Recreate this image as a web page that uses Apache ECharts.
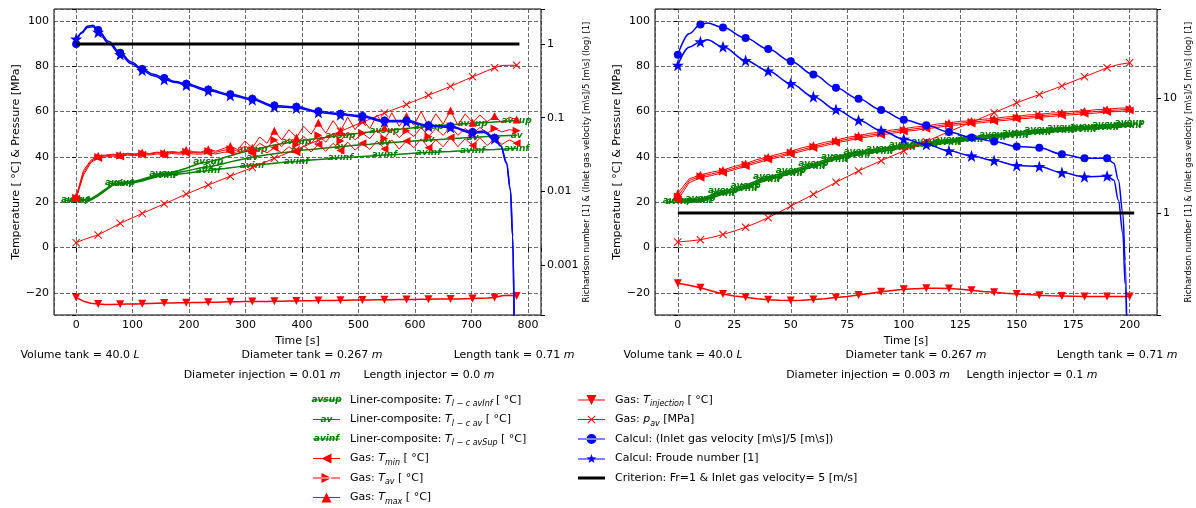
<!DOCTYPE html>
<html>
<head>
<meta charset="utf-8">
<script src="https://cdn.jsdelivr.net/npm/echarts@6/dist/echarts.min.js"></script>
<style>
  html, body { margin: 0; padding: 0; background: #fff; }
  #chart { width: 1196px; height: 508px; }
</style>
</head>
<body>
<div id="chart"></div>
<script>
// ---------- left run : injector 0.01 m ----------
const tLeft = [0,13,26,39,52,65,78,91,104,117,130,143,156,169,182,195,208,221,234,247,260,273,286,299,312,325,338,351,364,377,390,403,416,429,442,455,468,481,494,507,520,533,546,559,572,585,598,611,624,637,650,663,676,689,702,715,728,741,754,767,780];
const tMaxLeft = [22.5,34,38.5,40.5,40.8,41.2,40.9,41.6,41.3,41.9,41.5,42.1,41.8,42.4,42.0,43.0,42.3,42.1,43.4,42.5,43.6,44.8,43.2,47.0,44.0,48.8,46.0,51.5,47.5,52.0,48.5,53.5,50.0,55.0,50.5,56.0,51.5,57.5,52.0,56.5,52.5,58.5,53.0,59.5,53.5,58.0,54.0,60.0,53.5,59.0,54.5,60.5,54.0,59.0,55.0,58.5,55.5,58.0,55.0,57.5,56.5];
const tAvLeft = [22,33,38,40,40.5,40.8,40.6,41.2,41.0,41.5,41.2,41.8,41.5,42.0,41.7,42.3,41.9,41.8,42.6,42.0,42.8,43.5,42.5,44.8,43.0,46.0,44.0,47.5,44.5,48.0,45.5,49.0,46.0,49.5,46.5,50.5,47.0,51.0,47.5,50.5,48.0,52.0,48.0,52.5,48.5,51.5,49.0,53.0,49.0,52.5,49.5,53.5,49.5,52.5,50.0,53.0,50.5,52.5,51.0,52.0,51.5];
const tMinLeft = [21.5,32,37.5,39.5,40,40.3,40.2,40.8,40.5,41,40.8,41.3,41,41.5,41.2,41.7,41.3,41.2,41.8,41.3,42,42.3,41.5,43,41.5,43.5,41.8,44,41.8,44.5,42,45,42.2,45.5,42.5,46,42.8,46.5,43,46,43.3,47,43.5,47.5,43.5,47,44,48,44,47.5,44.5,48.5,44.5,48,45,48.5,45,48,45.5,47.5,46];
const tInjLeft = [-22.0,-23.6,-24.5,-24.9,-25.1,-25.1,-25.0,-24.9,-24.8,-24.7,-24.6,-24.5,-24.4,-24.4,-24.3,-24.3,-24.2,-24.2,-24.1,-24.1,-24.0,-23.9,-23.9,-23.8,-23.8,-23.7,-23.7,-23.6,-23.6,-23.5,-23.5,-23.4,-23.4,-23.3,-23.3,-23.3,-23.2,-23.2,-23.1,-23.1,-23.1,-23.0,-23.0,-23.0,-22.9,-22.9,-22.9,-22.8,-22.8,-22.7,-22.7,-22.6,-22.6,-22.5,-22.4,-22.3,-22.2,-22.0,-21.2,-21.0,-21.3];
const pAvLeft = [2.2,3.5,4.6,5.6,7.3,9.0,10.7,12.2,13.6,15.1,16.5,17.9,19.3,20.7,22.2,23.6,24.9,26.3,27.6,28.9,30.2,31.5,32.8,34.0,35.3,36.7,38.0,39.4,40.7,42.0,43.3,44.6,46.0,47.3,48.6,50.0,51.3,52.6,54.0,55.3,56.6,58.0,59.3,60.6,61.8,63.1,64.5,65.8,67.2,68.5,69.8,71.1,72.5,73.9,75.3,76.6,78.0,79.3,80.3,80.4,80.4];
const linerSupLeft = [21,21,21.5,23.5,25.8,28,28.6,28.8,29.3,30.2,31.2,32.3,32.8,33.2,34,35,36.2,37.3,37.8,38.5,39.5,40.5,41.5,42.3,43,43.8,44.5,45.2,45.8,46.3,46.8,47.3,47.8,48.2,48.6,49,49.4,49.8,50.2,50.6,51,51.3,51.6,51.9,52.2,52.5,52.8,53.1,53.4,53.7,54,54.2,54.4,54.6,54.8,55,55.2,55.4,55.6,55.8,56];
const linerAvLeft = [21,21,21.3,23.2,25.5,27.8,28.4,28.6,29,29.8,30.8,31.8,32.3,32.7,33.2,33.8,34.5,35.2,35.6,36.2,37,37.8,38.5,39.2,39.8,40.4,40.9,41.4,41.8,42.2,42.6,43,43.3,43.6,43.9,44.2,44.5,44.8,45.1,45.4,45.6,45.9,46.1,46.3,46.6,46.8,47,47.2,47.4,47.6,47.8,48,48.2,48.4,48.6,48.8,49,49.1,49.3,49.4,49.5];
const linerInfLeft = [20.8,20.8,21,22.8,25.2,27.5,28.2,28.4,28.7,29.4,30.3,31.2,31.8,32.2,32.5,32.8,33.2,33.6,34,34.4,34.8,35.2,35.6,36,36.3,36.6,36.9,37.2,37.5,37.8,38,38.3,38.6,38.9,39.1,39.3,39.6,39.8,40,40.2,40.4,40.6,40.8,41,41.2,41.4,41.6,41.8,41.9,42.1,42.3,42.4,42.6,42.7,42.9,43,43.2,43.3,43.5,43.6,43.8];
const tBlueLeft = [0,10,20,30,39,58,78,98,117,137,156,176,195,234,273,312,351,390,429,468,507,546,585,624,663,702,722,741,752,762,769,773,776];
const velLeft = [1.0,1.45,1.75,1.8,1.55,1.08,0.76,0.57,0.46,0.39,0.345,0.31,0.288,0.241,0.209,0.181,0.146,0.141,0.122,0.1135,0.1055,0.0914,0.0914,0.0792,0.0764,0.0638,0.066,0.0534,0.042,0.025,0.0108,0.0025,0.0001];
const froudeLeft = [1.17,1.4,1.68,1.72,1.45,1.02,0.72,0.54,0.44,0.37,0.33,0.30,0.277,0.232,0.201,0.175,0.141,0.136,0.118,0.110,0.102,0.088,0.088,0.0765,0.074,0.062,0.063,0.052,0.041,0.024,0.0104,0.0024,0.0001];
const critTLeft = [0, 785];

// ---------- right run : injector 0.003 m ----------
const tRight = [0,5,10,15,20,25,30,35,40,45,50,55,60,65,70,75,80,85,90,95,100,105,110,115,120,125,130,135,140,145,150,155,160,165,170,175,180,185,190,195,200];
const tMaxRight = [24,30.3,32.1,33.3,34.2,35.8,37.1,38.8,40,41.4,42.5,44,45.1,46.4,47.4,48.6,49.4,50.4,50.9,51.9,52.4,53.2,53.6,54.5,55,55.7,55.9,56.6,56.9,57.6,57.9,58.5,58.7,59.3,59.5,60.1,60.2,60.8,61,61.5,61.6];
const tAvRight = [22.5,29.5,31.5,32.5,33.6,35,36.5,38,39.4,40.6,41.9,43.2,44.5,45.6,46.8,47.8,48.8,49.6,50.3,51.1,51.8,52.4,53,53.7,54.4,54.9,55.3,55.8,56.3,56.8,57.3,57.7,58.1,58.5,58.9,59.3,59.6,60,60.4,60.7,61];
const tMinRight = [21,28.6,30.8,31.8,33,34.3,35.9,37.3,38.8,39.9,41.3,42.5,43.9,44.9,46.2,47.1,48.2,48.9,49.7,50.4,51.2,51.7,52.4,53,53.8,54.2,54.7,55.1,55.7,56.1,56.7,57,57.5,57.8,58.3,58.6,59,59.3,59.8,60,60.4];
const tInjRight = [-15.7,-16.6,-17.7,-19.1,-20.4,-21.3,-21.9,-22.5,-23,-23.2,-23.3,-23.2,-22.9,-22.5,-22,-21.5,-20.9,-20.2,-19.5,-18.9,-18.4,-18.1,-17.9,-17.9,-18,-18.4,-18.8,-19.3,-19.7,-20.1,-20.4,-20.7,-21,-21.2,-21.3,-21.4,-21.5,-21.5,-21.5,-21.5,-21.5];
const pAvRight = [2.5,2.9,3.5,4.5,5.8,7.3,9,11,13.2,15.7,18.3,20.9,23.5,26.1,28.8,31.3,33.8,36.1,38.3,40.5,42.6,44.7,46.8,49,51.1,53.2,55.3,57.4,59.5,61.6,63.8,65.7,67.5,69.4,71.3,73.3,75.3,77.3,79.3,80.7,81.5];
const linerSupRight = [20.9,21.2,21.6,23.2,25,26,27.5,29.5,31.2,32.5,33.9,35.5,36.9,38.7,40.2,41.3,42.2,43,43.7,44.5,45.3,45.9,46.5,47,47.5,48.2,48.7,49.3,49.8,50.3,50.8,51.4,51.9,52.3,52.7,53.1,53.4,53.7,54.1,54.5,54.9];
const linerAvRight = [20.5,20.7,21,22.5,24.2,25.2,26.8,28.8,30.5,31.8,33.2,34.8,36.2,38,39.5,40.6,41.5,42.3,43,43.8,44.6,45.2,45.8,46.3,46.8,47.5,48,48.6,49.1,49.6,50.1,50.7,51.2,51.6,52,52.4,52.7,53,53.4,53.8,54.2];
const linerInfRight = [20.1,20.2,20.5,21.9,23.6,24.6,26.2,28.2,29.9,31.2,32.6,34.2,35.6,37.4,38.9,40,40.9,41.7,42.4,43.2,44,44.6,45.2,45.7,46.2,46.9,47.4,48,48.5,49,49.5,50.1,50.6,51,51.4,51.8,52.1,52.4,52.8,53.2,53.6];
const tBlueRight = [0,5,10,13,20,30,40,50,60,70,80,90,100,110,120,130,140,150,160,170,180,190,193,195,197,198,199];
const velRight = [23.6,36,43.2,44.7,40.7,33,26.5,20.8,15.9,12.2,9.8,7.85,6.46,5.77,5.04,4.53,4.18,3.78,3.68,3.24,2.99,2.99,2.70,1.93,0.99,0.385,0.05];
const froudeRight = [19.2,27.5,30.7,31.9,27.7,21.1,17.1,13.3,10.2,7.91,6.38,5.21,4.38,3.93,3.46,3.13,2.85,2.58,2.53,2.24,2.06,2.09,1.93,1.29,0.66,0.24,0.05];
const critTRight = [0, 202];
const critValue = [1, 1];

// ---------- texts ----------
const notesLeft = ['Volume tank = 40.0 {i|L}', 'Diameter tank = 0.267 {i|m}', 'Length tank = 0.71 {i|m}',
  'Diameter injection = 0.01 {i|m}', 'Length injector = 0.0 {i|m}'];
const notesRight = ['Volume tank = 40.0 {i|L}', 'Diameter tank = 0.267 {i|m}', 'Length tank = 0.71 {i|m}',
  'Diameter injection = 0.003 {i|m}', 'Length injector = 0.1 {i|m}'];
const labels = {
  liner1: '{sp|}Liner-composite: {it|T}{sub|l − c avInf} [ °C]',
  liner2: '{sp|}Liner-composite: {it|T}{sub|l − c av} [ °C]',
  liner3: '{sp|}Liner-composite: {it|T}{sub|l − c avSup} [ °C]',
  tmin: '{sp|}Gas: {it|T}{sub|min} [ °C]',
  tav: '{sp|}Gas: {it|T}{sub|av} [ °C]',
  tmax: '{sp|}Gas: {it|T}{sub|max} [ °C]',
  tinj: '{sp|}Gas: {it|T}{sub|injection} [ °C]',
  pav: '{sp|}Gas: {it|p}{sub|av} [MPa]',
  vel: '{sp|}Calcul: (Inlet gas velocity [m\\s]/5 [m\\s])',
  fr: '{sp|}Calcul: Froude number [1]',
  crit: '{sp|}Criterion: Fr=1 & Inlet gas velocity= 5 [m/s]'
};
const greenMarks = ['avsup', 'av', 'avinf'];

const FONT = 'DejaVu Sans';
const RED = '#ff0000', GREEN = '#008000', BLUE = '#0000ff', BLACK = '#000000';
const CROSS = 'path://M0.7,0L4,3.3L7.3,0L8,0.7L4.7,4L8,7.3L7.3,8L4,4.7L0.7,8L0,7.3L3.3,4L0,0.7Z';
const STAR = 'path://M5,0L6.18,3.38L9.76,3.45L6.9,5.62L7.94,9.05L5,7L2.06,9.05L3.1,5.62L0.24,3.45L3.82,3.38Z';

const zip = (xs, ys) => xs.map((x, i) => [x, ys[i]]);
// matplotlib style markevery : a marker only on every n-th second
const every = (step, shape) => v => (Math.round(v[0]) % step === 0 ? shape : 'none');

function panel(gi, d) {
  const x = gi, yL = gi * 2, yR = gi * 2 + 1;
  const base = { type: 'line', xAxisIndex: x, showAllSymbol: true, animation: false, silent: true };
  const green = (name, ys, mark) => Object.assign({}, base, {
    name, yAxisIndex: yL, data: zip(d.t, ys), z: 2,
    symbol: every(d.markGreen, 'circle'), symbolSize: 1,
    lineStyle: { color: GREEN, width: 1.5 }, itemStyle: { color: GREEN },
    label: { show: true, position: 'inside', formatter: mark, color: GREEN, fontSize: 9,
      fontStyle: 'italic', fontWeight: 'bold', fontFamily: FONT }
  });
  const red = (name, ys, shape, rot, w) => Object.assign({}, base, {
    name, yAxisIndex: yL, data: zip(d.t, ys), z: 3,
    symbol: every(d.markGas, shape), symbolRotate: rot, symbolSize: 8,
    lineStyle: { color: RED, width: w }, itemStyle: { color: RED }
  });
  const blue = (name, ys, shape, size) => Object.assign({}, base, {
    name, yAxisIndex: yR, data: zip(d.tb, ys), z: 4,
    symbol: every(d.markBlue, shape), symbolSize: size,
    smooth: 0.35, smoothMonotone: 'x',
    lineStyle: { color: BLUE, width: 1.5 }, itemStyle: { color: BLUE }
  });
  return [
    green('liner1', d.sup, 'avsup'),
    green('liner2', d.av, 'av'),
    green('liner3', d.inf, 'avinf'),
    red('tmin', d.tmin, 'triangle', 90, 1),
    red('tav', d.tav, 'triangle', -90, 1),
    red('tmax', d.tmax, 'triangle', 0, 1),
    red('tinj', d.tinj, 'triangle', 180, 1.5),
    red('pav', d.pav, CROSS, 0, 1),
    blue('vel', d.vel, 'circle', 8),
    blue('fr', d.fr, STAR, 12),
    Object.assign({}, base, {
      name: 'crit', yAxisIndex: yR, data: zip(d.ct, critValue), z: 5,
      symbol: 'none', lineStyle: { color: BLACK, width: 3 }, itemStyle: { color: BLACK }
    })
  ];
}

const grids = [
  { left: 54, top: 9, width: 487, height: 306 },
  { left: 655, top: 9, width: 502, height: 306 }
];

const gridLine = { show: true, lineStyle: { color: '#444', width: 0.8, type: [4, 2] } };
const tickLab = { fontSize: 11, color: '#000', fontFamily: FONT };
const minus = v => String(v).replace('-', '\u2212');
const decade = v => {
  const e = Math.log10(v), r = Math.round(e);
  if (Math.abs(e - r) > 1e-6) return '';
  return r >= 0 ? String(Math.pow(10, r)) : Math.pow(10, r).toFixed(-r);
};

function xAxis(gi, min, max, step) {
  return {
    gridIndex: gi, type: 'value', min, max, minInterval: step, maxInterval: step,
    name: 'Time [s]', nameLocation: 'middle', nameGap: 18,
    nameTextStyle: { fontSize: 11, color: '#000', fontFamily: FONT },
    axisLine: { show: false }, axisTick: { length: 4, lineStyle: { color: '#000' } },
    axisLabel: Object.assign({ margin: 5, formatter: v => (v % step === 0 ? minus(v) : '') }, tickLab),
    splitLine: gridLine
  };
}
function yLeft(gi) {
  return {
    gridIndex: gi, type: 'value', min: -29.7, max: 105.2, minInterval: 20, maxInterval: 20,
    name: 'Temperature [ °C] & Pressure [MPa]', nameLocation: 'middle', nameGap: 32,
    nameTextStyle: { fontSize: 11, color: '#000', fontFamily: FONT },
    axisLine: { show: false }, axisTick: { length: 4, lineStyle: { color: '#000' } },
    axisLabel: Object.assign({ margin: 5, formatter: v => (v % 20 === 0 ? minus(v) : '') }, tickLab),
    splitLine: gridLine
  };
}
function yRight(gi, min, max, gap) {
  return {
    gridIndex: gi, type: 'log', logBase: 10, min, max, position: 'right',
    name: 'Richardson number [1] & (Inlet gas velocity [m\\s]/5 [m\\s] (log) [1]',
    nameLocation: 'middle', nameGap: gap, nameRotate: 90,
    nameTextStyle: { fontSize: 8.5, color: '#000', fontFamily: FONT },
    axisLine: { show: false }, axisTick: { length: 4, lineStyle: { color: '#000' } },
    axisLabel: Object.assign({ margin: 6, formatter: decade }, tickLab),
    splitLine: { show: false }
  };
}

const legendBase = {
  orient: 'vertical', padding: 0, itemWidth: 27, itemHeight: 10, itemGap: 3.5,
  selectedMode: false, itemStyle: { borderWidth: 0 },
  formatter: n => labels[n],
  textStyle: {
    fontSize: 11, lineHeight: 16, color: '#000', fontFamily: FONT,
    rich: {
      it: { fontSize: 11, lineHeight: 16, fontStyle: 'italic', fontFamily: FONT, color: '#000' },
      sub: { fontSize: 8, lineHeight: 16, fontStyle: 'italic', verticalAlign: 'bottom', fontFamily: FONT, color: '#000' },
      sp: { width: 5 }
    }
  }
};
const LINE = 'path://M0,4.5h27v1h-27z';

const noteStyle = (text, x, y) => ({
  type: 'text', x, y, silent: true,
  style: {
    text, fill: '#000', fontSize: 11, fontFamily: FONT,
    align: 'center', verticalAlign: 'middle', textAlign: 'center', textVerticalAlign: 'middle',
    rich: { i: { fontStyle: 'italic', fontSize: 11, fontFamily: FONT, fill: '#000' } }
  }
});

const option = {
  animation: false,
  backgroundColor: '#fff',
  textStyle: { fontFamily: FONT },
  grid: grids.map(g => Object.assign({ show: true, borderColor: '#000', borderWidth: 1, backgroundColor: 'transparent' }, g)),
  xAxis: [xAxis(0, -39.2, 823.2, 100), xAxis(1, -10.1, 212.1, 25)],
  yAxis: [yLeft(0), yRight(0, 2.1e-4, 2.99, 38), yLeft(1), yRight(1, 0.13, 59, 27)],
  legend: [
    Object.assign({}, legendBase, {
      left: 313, top: 392,
      data: [
        { name: 'liner1', icon: LINE }, { name: 'liner2', icon: LINE }, { name: 'liner3', icon: LINE },
        { name: 'tmin', icon: 'path://M0,4.5h27v1h-27z M8.5,5L18.5,0L18.5,10Z' },
        { name: 'tav', icon: 'path://M0,4.5h27v1h-27z M18.5,5L8.5,0L8.5,10Z' },
        { name: 'tmax', icon: 'path://M0,4.5h27v1h-27z M13.5,0L18.5,10L8.5,10Z' }
      ]
    }),
    Object.assign({}, legendBase, {
      left: 578, top: 392,
      data: [
        { name: 'tinj', icon: 'path://M0,4.5h27v1h-27z M8.5,0L18.5,0L13.5,10Z' },
        { name: 'pav', icon: 'path://M0,4.5h27v1h-27z M9.5,1.7L10.2,1L13.5,4.3L16.8,1L17.5,1.7L14.2,5L17.5,8.3L16.8,9L13.5,5.7L10.2,9L9.5,8.3L12.8,5Z' },
        { name: 'vel', icon: 'path://M0,4.5h27v1h-27z M8.5,5a5,5 0 1,0 10,0a5,5 0 1,0 -10,0Z' },
        { name: 'fr', icon: 'path://M0,4.5h27v1h-27z M13.5,0L14.68,3.38L18.26,3.45L15.4,5.62L16.44,9.05L13.5,7L10.56,9.05L11.6,5.62L8.74,3.45L12.32,3.38Z' },
        { name: 'crit', icon: 'path://M0,3.5h27v3h-27z', itemStyle: { color: BLACK } }
      ]
    })
  ],
  graphic: [].concat(
    [[80, 355], [312, 355], [514, 355], [262, 375], [429, 375]].map((p, i) => noteStyle(notesLeft[i], p[0], p[1])),
    [[683, 355], [916, 355], [1117, 355], [868, 375], [1032, 375]].map((p, i) => noteStyle(notesRight[i], p[0], p[1])),
    greenMarks.map((m, i) => ({
      type: 'text', x: 326.5, y: 400 + i * 19.5, z: 100, silent: true,
      style: { text: m, fill: GREEN, fontSize: 9, fontStyle: 'italic', fontWeight: 'bold', fontFamily: FONT,
        align: 'center', verticalAlign: 'middle', textAlign: 'center', textVerticalAlign: 'middle' }
    }))
  ),
  series: [].concat(
    panel(0, { t: tLeft, tmax: tMaxLeft, tav: tAvLeft, tmin: tMinLeft, tinj: tInjLeft, pav: pAvLeft,
      sup: linerSupLeft, av: linerAvLeft, inf: linerInfLeft, tb: tBlueLeft, vel: velLeft, fr: froudeLeft,
      ct: critTLeft, markGas: 39, markBlue: 39, markGreen: 78 }),
    panel(1, { t: tRight, tmax: tMaxRight, tav: tAvRight, tmin: tMinRight, tinj: tInjRight, pav: pAvRight,
      sup: linerSupRight, av: linerAvRight, inf: linerInfRight, tb: tBlueRight, vel: velRight, fr: froudeRight,
      ct: critTRight, markGas: 10, markBlue: 10, markGreen: 10 })
  )
};

const myChart = echarts.init(document.getElementById('chart'));
myChart.setOption(option);
</script>
</body>
</html>
